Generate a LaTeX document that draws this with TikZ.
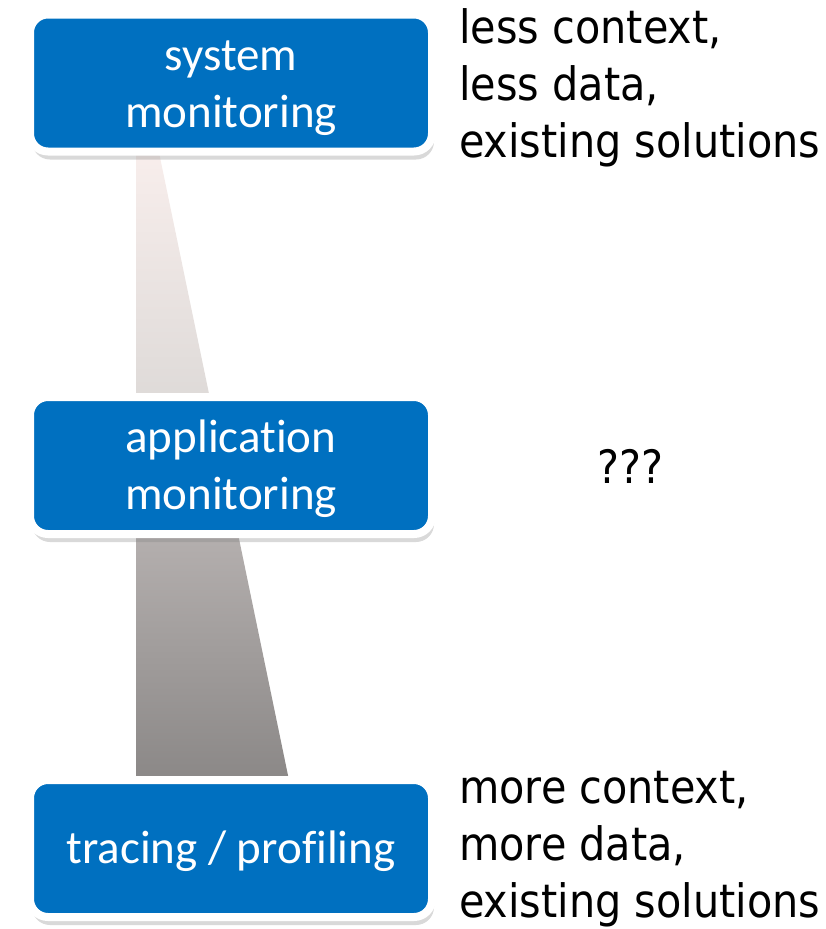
\documentclass[tikz,border=0pt]{standalone}
\usepackage{fontspec}
\setmainfont[Ligatures=NoCommon]{Carlito}
\newfontfamily\sidefont[FakeStretch=0.9]{DejaVu Sans}
\usetikzlibrary{positioning, shadows}

\definecolor{boxblue}{HTML}{0070C0}
\definecolor{wedgetop}{HTML}{F8EEEC}
\definecolor{wedgemid}{HTML}{DEDAD8}
\definecolor{wedgelow}{HTML}{B5B0AF}
\definecolor{wedgeend}{HTML}{8A8786}

\begin{document}
\begin{tikzpicture}[
    x=1pt, y=-1pt,
    stage/.style={draw=white, line width=8pt, fill=boxblue, rounded corners=18pt,
      text=white, align=center, minimum width=402pt, minimum height=137pt,
      font=\fontsize{47}{57}\selectfont, text depth=10pt, text height=98pt,
      drop shadow={shadow xshift=2pt, shadow yshift=-8pt, opacity=0.3}},
    oneline/.style={text height=39pt},
    note/.style={anchor=base west, align=left, inner sep=0pt,
      font=\sidefont\fontsize{46}{57}\selectfont}
]
  \useasboundingbox (0,0) rectangle (825,929);

  % widening band behind the boxes
  \shade[top color=wedgetop, bottom color=wedgemid]
    (136,150) -- (158.5,150) -- (210.3,400) -- (136,400) -- cycle;
  \shade[top color=wedgelow, bottom color=wedgeend]
    (136,530) -- (237.2,530) -- (290,785) -- (136,785) -- cycle;

  \node[stage] (sys) at (231,83) {system\\monitoring};
  \node[stage] (app) at (231,465.5) {application\\monitoring};
  \node[stage, oneline] (trace) at (231,848.5) {tracing / profiling};

  % base = last line
  \node[note] (less) at (459,157) {less context,\\less data,\\existing solutions};
  \node[note, anchor=base] (open) at (630,483) {???};
  \node[note] (more) at (459,917) {more context,\\more data,\\existing solutions};
\end{tikzpicture}
\end{document}
